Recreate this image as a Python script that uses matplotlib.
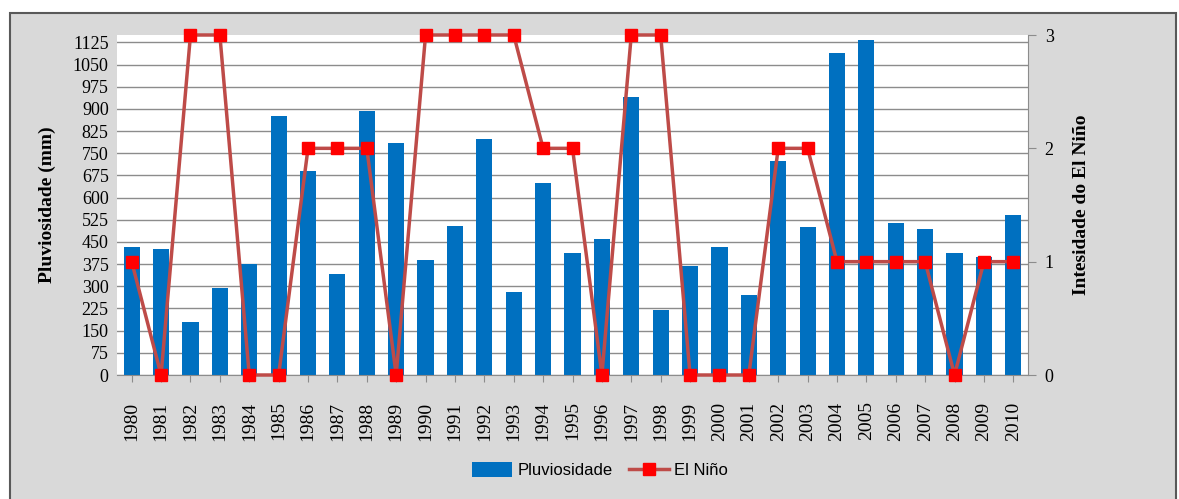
import matplotlib
matplotlib.use("Agg")
import matplotlib.pyplot as plt
import matplotlib.patches as patches
import numpy as np

# dados
anos = list(range(1980, 2011))
pluviosidade = [433, 425, 178, 295, 374, 876, 691, 343, 894, 785,
                389, 504, 799, 281, 649, 413, 459, 939, 220, 368,
                433, 272, 723, 501, 1088, 1133, 513, 493, 413, 400, 542]
el_nino = [1, 0, 3, 3, 0, 0, 2, 2, 2, 0,
           3, 3, 3, 3, 2, 2, 0, 3, 3, 0,
           0, 0, 2, 2, 1, 1, 1, 1, 0, 1, 1]
y_ticks = list(range(0, 1126, 75))
y2_ticks = [0, 1, 2, 3]

W, H = 1179, 499
fig = plt.figure(figsize=(W / 100, H / 100), dpi=100, facecolor="white")

# fundo cinzento com moldura
fundo = patches.Rectangle((10 / W, -0.05), (1176 - 10) / W, (H - 13) / H + 0.05,
                          transform=fig.transFigure, facecolor="#D9D9D9",
                          edgecolor="#595959", linewidth=1.5, zorder=-10)
fig.patches.append(fundo)

ax = fig.add_axes([117 / W, 1 - 375 / H, (1028 - 117) / W, (375 - 35) / H])
ax.set_facecolor("white")
x = np.arange(len(anos))
barras = ax.bar(x, pluviosidade, width=0.55, color="#0070C0", label="Pluviosidade", zorder=2)
ax.set_axisbelow(True)
ax.set_ylim(0, 1150)
ax.set_xlim(-0.5, len(anos) - 0.5)
ax.set_yticks(y_ticks)
ax.set_yticklabels([str(v) for v in y_ticks], fontsize=13, family="Liberation Serif")
ax.set_xticks(x)
ax.set_xticklabels([str(a) for a in anos], rotation=90, fontsize=14, family="Liberation Serif")
ax.grid(axis="y", color="#8C8C8C", linewidth=1)
ax.tick_params(axis="y", length=0, pad=6)
ax.tick_params(axis="x", length=5, color="#8C8C8C", pad=14)
for s in ["top", "left", "right"]:
    ax.spines[s].set_visible(False)
ax.spines["bottom"].set_color("#8C8C8C")
ax.set_ylabel("Pluviosidade (mm)", fontsize=14, family="Liberation Serif", fontweight="bold", labelpad=12)

ax2 = ax.twinx()
linha, = ax2.plot(x, el_nino, color="#BE4B48", linewidth=2.5, marker="s", markersize=9,
                  markerfacecolor="#FF0000", markeredgecolor="#FF0000", label="El Niño",
                  clip_on=False, zorder=3)
ax2.set_ylim(0, 3)
ax2.set_yticks(y2_ticks)
ax2.set_yticklabels([str(v) for v in y2_ticks], fontsize=13, family="Liberation Serif")
ax2.tick_params(axis="y", length=6, color="#8C8C8C", pad=6)
for s in ["top", "left", "bottom"]:
    ax2.spines[s].set_visible(False)
ax2.spines["right"].set_color("#8C8C8C")
ax2.set_ylabel("Intesidade do El Niño", fontsize=14, family="Liberation Serif", fontweight="bold", labelpad=14)

fig.legend([barras, linha], ["Pluviosidade", "El Niño"], loc="center", bbox_to_anchor=(600 / W, 1 - 470 / H),
           ncol=2, frameon=False, prop={"family": "Liberation Sans", "size": 12},
           handlelength=2.4, handleheight=1.0, columnspacing=1.0, handletextpad=0.3)

fig.savefig("out.png", dpi=100, facecolor=fig.get_facecolor())
